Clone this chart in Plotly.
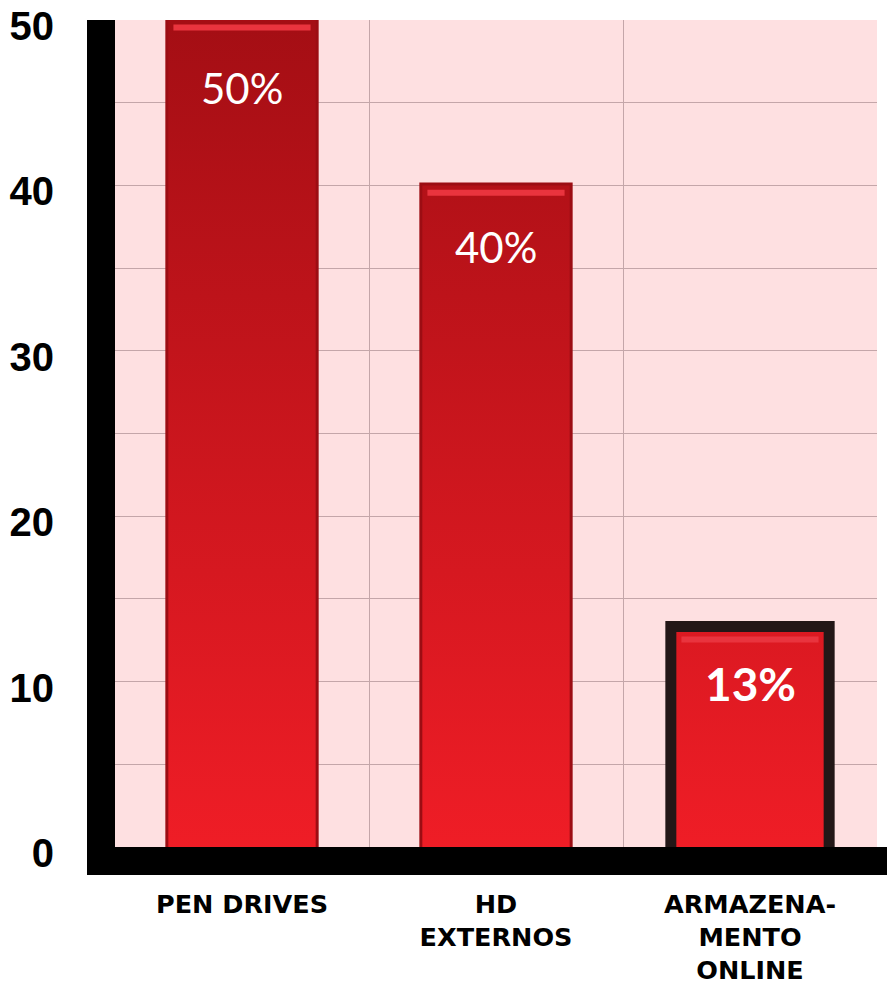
import plotly.graph_objects as go

# ---- data ----
categories = ["PEN DRIVES", "HD<br>EXTERNOS", "ARMAZENA-<br>MENTO<br>ONLINE"]
values = [50, 40, 13]
value_labels = ["50%", "40%", "13%"]
y_ticks = [0, 10, 20, 30, 40, 50]

# ---- style ----
pos = list(range(len(categories)))
bar_width = 0.58
outline_colors = ["#9c0d13", "#9c0d13", "#231717"]
outline_widths = [6, 6, 22]
label_weights = ["normal", "normal", "bold"]
label_sizes = [42, 42, 46]
label_shift = [-68, -62, -52]
pink = "#fee0e1"
grid = "#c4a6a9"

fig = go.Figure()

# bars (outline only; gradient fill drawn on top, covering inner half of outline)
fig.add_trace(go.Bar(
    x=pos, y=values, width=bar_width,
    marker=dict(color="rgba(0,0,0,0)",
                line=dict(color=outline_colors, width=outline_widths)),
    hoverinfo="skip", showlegend=False,
))

# gradient fill for each bar (same vertical gradient in data space)
for p, v in zip(pos, values):
    h = bar_width / 2
    fig.add_trace(go.Scatter(
        x=[p - h, p + h, p + h, p - h, p - h],
        y=[0, 0, v, v, 0],
        mode="lines", line=dict(width=0), fill="toself",
        fillgradient=dict(type="vertical", start=0, stop=50,
                          colorscale=[[0, "#ef1d26"], [1, "#a40e14"]]),
        hoverinfo="skip", showlegend=False,
    ))
    # light highlight stripe near the top of the bar
    fig.add_trace(go.Scatter(
        x=[p - h + 0.02, p + h - 0.02], y=[v - 0.45, v - 0.45],
        mode="lines", line=dict(color="#e9343e", width=6),
        hoverinfo="skip", showlegend=False,
    ))

for p, v, t, w, s, sh in zip(pos, values, value_labels, label_weights, label_sizes, label_shift):
    fig.add_annotation(x=p, y=v, text=t, showarrow=False, yanchor="middle",
                       yshift=sh, font=dict(family="Lato", size=s, color="white", weight=w))

# black band continuing under the right margin
fig.add_shape(type="rect", xref="paper", yref="paper",
              x0=1, x1=1 + 20 / 762, y0=-28 / 827, y1=0,
              fillcolor="black", line=dict(width=0), layer="above")

# page has an 8px body margin, so the figure is sized/offset to compensate
fig.update_layout(
    width=887, height=978,
    margin=dict(l=107, r=18, t=12, b=139),
    paper_bgcolor="white", plot_bgcolor=pink,
    showlegend=False,
    xaxis=dict(
        range=[-0.5, 2.5], tickmode="array", tickvals=pos, ticktext=categories,
        showgrid=False, zeroline=False, automargin=False,
        showline=True, linewidth=28, linecolor="black",
        ticks="", ticklabelstandoff=7, ticklabeloverflow="allow",
        tickfont=dict(family="DejaVu Sans", size=25.5, color="black", weight="bold"),
        minor=dict(tickmode="array", tickvals=[0.5, 1.5, 2.5], showgrid=True,
                   gridcolor=grid, gridwidth=1, ticks=""),
    ),
    yaxis=dict(
        range=[0, 50], tickmode="array", tickvals=y_ticks,
        showgrid=True, gridcolor=grid, gridwidth=1, zeroline=False, automargin=False,
        showline=True, linewidth=28, linecolor="black",
        ticks="", ticklabelstandoff=25, ticklabeloverflow="allow", ticklabelshift=6,
        tickfont=dict(family="Liberation Sans", size=40, color="black", weight="bold"),
        minor=dict(dtick=5, showgrid=True, gridcolor=grid, gridwidth=1, ticks=""),
    ),
)

fig.write_html("out.html")
